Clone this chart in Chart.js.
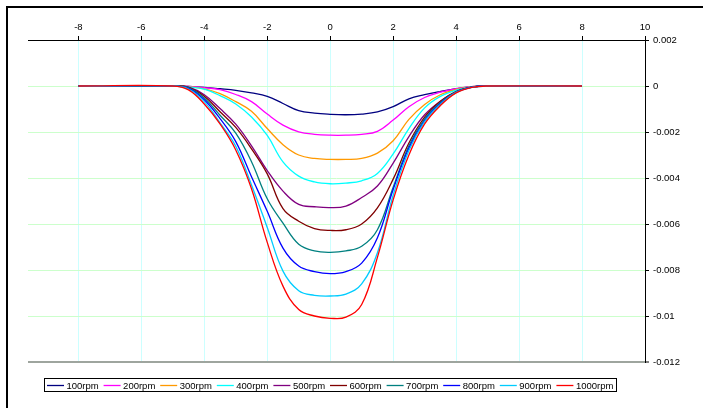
<!DOCTYPE html>
<html>
<head>
<meta charset="utf-8">
<script src="https://cdn.jsdelivr.net/npm/chart.js@4.4.1/dist/chart.umd.min.js"></script>
<style>
html, body { margin: 0; padding: 0; background: #fff; }
#wrap { width: 703px; height: 408px; }
</style>
</head>
<body>
<div id="wrap"><canvas id="profile" width="703" height="408"></canvas></div>
<script>
// position along the profile
var xValues = [-8, -5, -4.5, -4, -3.5, -3, -2.5, -2, -1.5, -1, -0.5, 0, 0.5, 1, 1.5, 2, 2.5, 3, 3.5, 4, 4.5, 5, 8];

var xTicks = [-8, -6, -4, -2, 0, 2, 4, 6, 8, 10];

var seriesLabels = ['100rpm', '200rpm', '300rpm', '400rpm', '500rpm', '600rpm', '700rpm', '800rpm', '900rpm', '1000rpm'];
var seriesColors = ['#000080', '#ff00ff', '#ff9900', '#00ffff', '#800080', '#800000', '#008080', '#0000ff', '#00ccff', '#ff0000'];

var rpm100 = [0, 0, -0.00002, -0.00006, -0.00012, -0.00019, -0.0003, -0.00045, -0.00076, -0.00107, -0.00118, -0.00123, -0.00125, -0.00122, -0.00113, -0.0009, -0.00056, -0.00038, -0.00024, -0.00012, -0.00003, 0, 0];
var rpm200 = [0, 0, -0.00002, -0.00007, -0.00016, -0.00037, -0.00068, -0.00122, -0.0017, -0.00199, -0.0021, -0.00214, -0.00214, -0.0021, -0.00197, -0.00148, -0.0009, -0.0005, -0.00027, -0.00012, -0.00003, 0, 0];
var rpm300 = [0, 0, -0.00003, -0.00012, -0.00033, -0.00068, -0.0011, -0.00185, -0.00255, -0.003, -0.00315, -0.00319, -0.00319, -0.00315, -0.00292, -0.00238, -0.00145, -0.0008, -0.00038, -0.00015, -0.00003, 0, 0];
var rpm400 = [0, 0, -0.00004, -0.00014, -0.00042, -0.00078, -0.00135, -0.00215, -0.0033, -0.00392, -0.00417, -0.00425, -0.00422, -0.00412, -0.0038, -0.00295, -0.00185, -0.00095, -0.00045, -0.00018, -0.00004, 0, 0];
var rpm500 = [0, 0, -0.00005, -0.00038, -0.00098, -0.00166, -0.0026, -0.00368, -0.00457, -0.00515, -0.00525, -0.00529, -0.00522, -0.00485, -0.00435, -0.00335, -0.0022, -0.00125, -0.00066, -0.00024, -0.00005, 0, 0];
var rpm600 = [0, 0, -0.00006, -0.00045, -0.00112, -0.0018, -0.00273, -0.00382, -0.00533, -0.00588, -0.0062, -0.00628, -0.00625, -0.006, -0.0053, -0.00405, -0.00248, -0.00135, -0.00066, -0.00024, -0.00005, 0, 0];
var rpm700 = [0, 0, -0.00008, -0.00052, -0.00127, -0.00205, -0.00329, -0.0049, -0.00596, -0.00688, -0.00717, -0.00723, -0.00717, -0.00697, -0.00625, -0.0044, -0.0026, -0.00143, -0.00072, -0.00025, -0.00005, 0, 0];
var rpm800 = [0, 0, -0.0001, -0.0006, -0.00142, -0.00242, -0.00395, -0.00545, -0.00705, -0.00783, -0.00807, -0.00816, -0.00807, -0.0077, -0.0066, -0.0045, -0.0027, -0.0015, -0.00076, -0.00027, -0.00005, 0, 0];
var rpm900 = [0, 0, -0.00013, -0.00068, -0.0016, -0.00262, -0.0043, -0.00615, -0.00805, -0.0089, -0.0091, -0.00913, -0.00905, -0.0086, -0.00725, -0.00475, -0.0028, -0.00155, -0.0008, -0.00028, -0.00006, 0, 0];
var rpm1000 = [0, 0, -0.00017, -0.00078, -0.00165, -0.00278, -0.00447, -0.0068, -0.0087, -0.00972, -0.01, -0.0101, -0.01005, -0.0095, -0.00745, -0.00495, -0.003, -0.00165, -0.00085, -0.0003, -0.00006, 0, 0];

var seriesValues = [rpm100, rpm200, rpm300, rpm400, rpm500, rpm600, rpm700, rpm800, rpm900, rpm1000];

var FONT = 'Arial, "Liberation Sans", sans-serif';

function points(ys) {
	return xValues.map(function(x, i) { return { x: x, y: ys[i] }; });
}

var datasets = seriesLabels.map(function(label, i) {
	return {
		label: label,
		data: points(seriesValues[i]),
		borderColor: seriesColors[i],
		backgroundColor: seriesColors[i],
		borderWidth: 1.3,
		pointRadius: 0,
		fill: false,
		showLine: true,
		tension: 0.4,
		order: seriesLabels.length - i
	};
});

// white page, outer frame and the boxed legend under the plot
var frameAndLegend = {
	id: 'frameAndLegend',
	beforeDraw: function(chart) {
		var c = chart.ctx;
		c.save();
		c.fillStyle = '#fff';
		c.fillRect(0, 0, chart.width, chart.height);
		c.restore();
	},
	afterDraw: function(chart) {
		var c = chart.ctx;
		c.save();
		c.strokeStyle = '#000';
		c.lineWidth = 2;
		c.strokeRect(7, 7, 800, 500);

		c.lineWidth = 1;
		c.strokeRect(44.5, 378.5, 572, 13);

		c.font = '9.5px ' + FONT;
		c.textBaseline = 'middle';
		c.textAlign = 'left';
		chart.data.datasets.forEach(function(ds, i) {
			var x = 47 + i * 56.6;
			c.strokeStyle = ds.borderColor;
			c.lineWidth = 1.3;
			c.beginPath();
			c.moveTo(x, 385.5);
			c.lineTo(x + 17, 385.5);
			c.stroke();
			c.fillStyle = '#000';
			c.fillText(ds.label, x + 19.5, 386);
		});
		c.restore();
	}
};

var config = {
	type: 'scatter',
	data: { datasets: datasets },
	options: {
		responsive: false,
		devicePixelRatio: 1,
		animation: false,
		layout: { padding: { left: 28, top: 0, right: 0, bottom: 46 } },
		plugins: {
			legend: { display: false },
			tooltip: { enabled: false }
		},
		scales: {
			x: {
				type: 'linear',
				position: 'top',
				min: -9.6,
				max: 10,
				afterBuildTicks: function(scale) {
					scale.ticks = xTicks.map(function(v) { return { value: v }; });
				},
				afterFit: function(scale) { scale.height = 40; },
				grid: {
					color: '#ccffff',
					lineWidth: 1,
					tickColor: '#000',
					tickLength: 4,
					tickWidth: 1
				},
				border: { color: '#000', width: 1 },
				ticks: {
					autoSkip: false,
					maxRotation: 0,
					padding: 3,
					color: '#000',
					font: { family: FONT, size: 9.5 }
				}
			},
			y: {
				position: 'right',
				min: -0.012,
				max: 0.002,
				afterFit: function(scale) { scale.width = 58; },
				grid: {
					color: function(ctx) {
						return Math.abs(ctx.tick.value + 0.012) < 1e-9 ? '#9ea59e' : '#ccffcc';
					},
					lineWidth: function(ctx) {
						return Math.abs(ctx.tick.value + 0.012) < 1e-9 ? 2 : 1;
					},
					tickColor: '#000',
					tickLength: 4,
					tickWidth: 1
				},
				border: { color: '#000', width: 1 },
				ticks: {
					stepSize: 0.002,
					padding: 4,
					color: '#000',
					font: { family: FONT, size: 9.5 },
					callback: function(v) { return String(Number(v.toFixed(4))); }
				}
			}
		}
	},
	plugins: [frameAndLegend]
};

window.onload = function() {
	var ctx = document.getElementById('profile').getContext('2d');
	window.profileChart = new Chart(ctx, config);
};
</script>
</body>
</html>
